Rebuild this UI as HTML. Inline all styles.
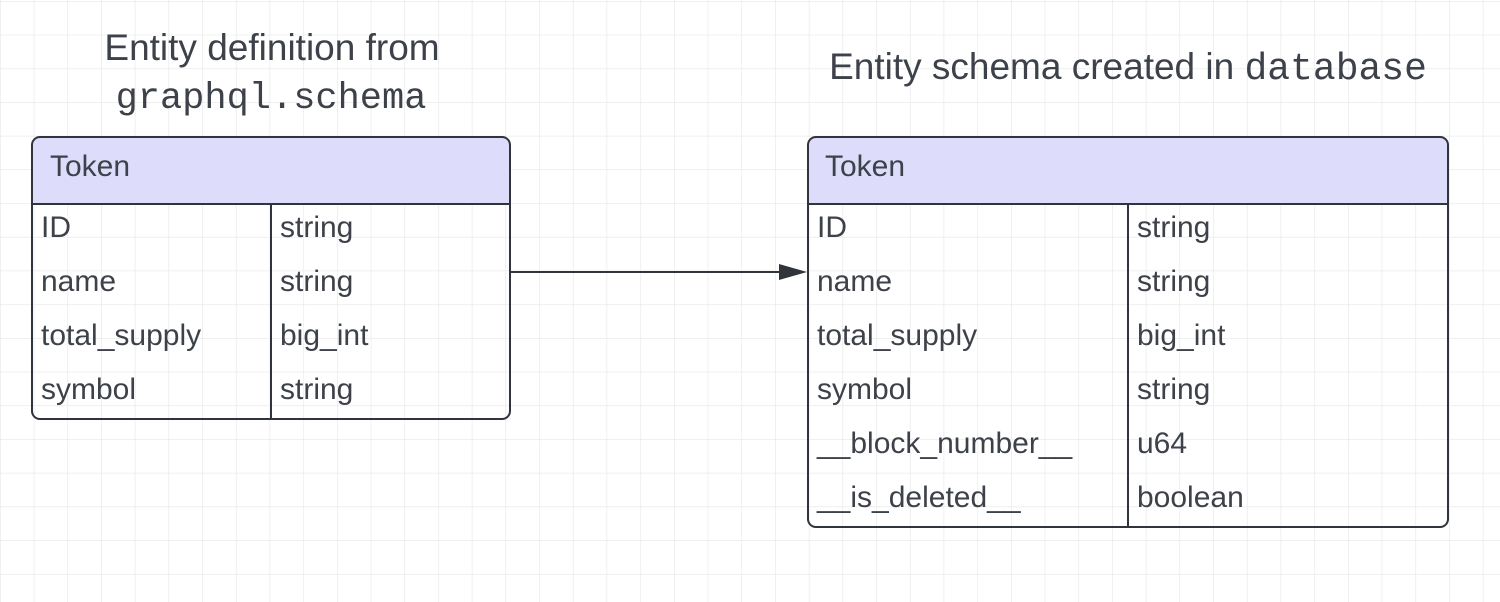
<!DOCTYPE html>
<html><head><meta charset="utf-8"><style>
html,body{margin:0;padding:0;background:#fff}
svg{display:block}
text{font-family:"Liberation Sans",sans-serif;fill:#3d4149}
.m{font-family:"Liberation Mono",monospace}
</style></head><body>
<svg width="1500" height="602" viewBox="0 0 1500 602" xmlns="http://www.w3.org/2000/svg">
<defs>
<pattern id="g" x="0" y="1" width="33.7" height="33.7" patternUnits="userSpaceOnUse">
<path d="M0 0H33.7M0 0V33.7" stroke="#e6e6e6" stroke-width="1.2" fill="none"/>
</pattern>
</defs>
<rect width="1500" height="602" fill="url(#g)"/>
<text x="272" y="60" font-size="37" text-anchor="middle">Entity definition from</text>
<text x="271" y="108" font-size="37" text-anchor="middle" class="m">graphql.schema</text>
<text x="1128" y="79" font-size="37" text-anchor="middle">Entity schema created in <tspan class="m" font-size="38">database</tspan></text>

<path d="M32 204V145a8 8 0 0 1 8-8H502a8 8 0 0 1 8 8V204Z" fill="#dddcfb"/>
<rect x="32" y="137" width="478" height="282" rx="8" fill="none" stroke="#30343b" stroke-width="2"/>
<line x1="32" y1="204" x2="510" y2="204" stroke="#30343b" stroke-width="2"/>
<line x1="271" y1="204" x2="271" y2="419" stroke="#30343b" stroke-width="2"/>
<g font-size="30">
<text x="50" y="176">Token</text>
<text x="41" y="237">ID</text><text x="280" y="237">string</text>
<text x="41" y="291">name</text><text x="280" y="291">string</text>
<text x="41" y="345">total_supply</text><text x="280" y="345">big_int</text>
<text x="41" y="399">symbol</text><text x="280" y="399">string</text>
</g>

<path d="M808 204V145a8 8 0 0 1 8-8H1440a8 8 0 0 1 8 8V204Z" fill="#dddcfb"/>
<rect x="808" y="137" width="640" height="390" rx="8" fill="none" stroke="#30343b" stroke-width="2"/>
<line x1="808" y1="204" x2="1448" y2="204" stroke="#30343b" stroke-width="2"/>
<line x1="1128" y1="204" x2="1128" y2="527" stroke="#30343b" stroke-width="2"/>
<g font-size="30">
<text x="825" y="176">Token</text>
<text x="817" y="237">ID</text><text x="1137" y="237">string</text>
<text x="817" y="291">name</text><text x="1137" y="291">string</text>
<text x="817" y="345">total_supply</text><text x="1137" y="345">big_int</text>
<text x="817" y="399">symbol</text><text x="1137" y="399">string</text>
<text x="817" y="453">__block_number__</text><text x="1137" y="453">u64</text>
<text x="817" y="507">__is_deleted__</text><text x="1137" y="507">boolean</text>
</g>

<line x1="510" y1="272" x2="782" y2="272" stroke="#30343b" stroke-width="2"/>
<path d="M779 264L807 272L779 280Z" fill="#30343b"/>
</svg>
</body></html>
